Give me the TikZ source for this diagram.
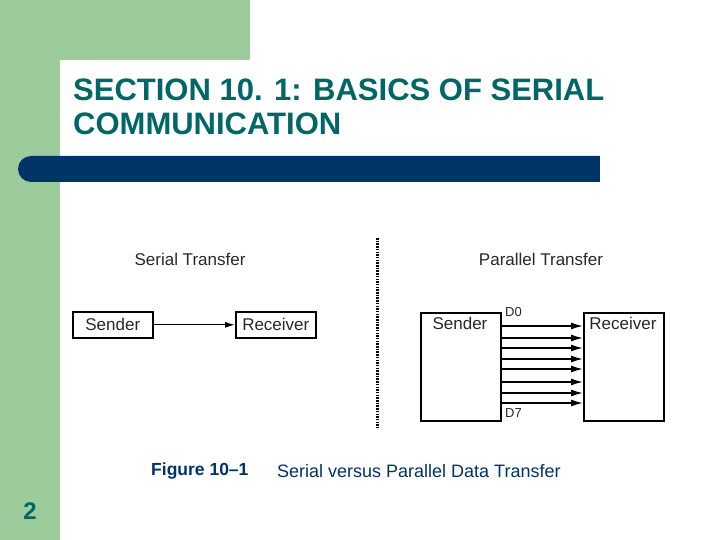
\documentclass[tikz,border=0pt]{standalone}
\usepackage{fontspec}
\setmainfont{Liberation Sans}
\usetikzlibrary{arrows.meta}
\definecolor{gr}{RGB}{156,204,156}
\definecolor{bl}{RGB}{0,51,102}
\definecolor{tl}{RGB}{0,102,102}
\definecolor{tx}{RGB}{40,40,40}
\begin{document}
\begin{tikzpicture}[x=1pt,y=-1pt,
  box/.style={draw,line width=1.6pt,anchor=north west,inner sep=0pt},
  lbl/.style={text=tx,font=\fontsize{17}{19}\selectfont,inner sep=0pt},
  arr/.style={line width=1.5pt,-{Latex[length=12pt,width=7pt]}}]
\useasboundingbox (0,0) rectangle (720,540);
\fill[gr] (0,0) rectangle (250,60);
\fill[gr] (0,0) rectangle (60,540);
\fill[white,rounded corners=16pt] (60,60) rectangle (740,560);
\fill[bl,rounded corners=13pt] (18,156) rectangle (640,182);
\fill[white] (600,150) rectangle (720,190);
\node[anchor=west,text=tl,font=\bfseries\fontsize{31}{34}\selectfont,align=left,inner sep=0pt] (title) at (73,107) {SECTION 10. 1: BASICS OF SERIAL\\COMMUNICATION};
\node[lbl] (st) at (190,259) {Serial Transfer};
\node[lbl] (pt) at (541,259) {Parallel Transfer};
\node[box,minimum width=80pt,minimum height=26pt] (s1) at (72,311) {};
\node[lbl,anchor=center] at (s1.center) {Sender};
\node[box,minimum width=80pt,minimum height=26pt] (r1) at (235,311) {};
\node[lbl,anchor=center] at (r1.center) {Receiver};
\draw[line width=1.2pt,-{Latex[length=10pt,width=6pt]}] (s1.east) -- (r1.west);
\coordinate (dt) at (377,238); \coordinate (db) at (377,428);
\draw[line width=3pt,dash pattern=on 1.5pt off 1.2pt] (dt) -- (db);
\node[box,minimum width=80pt,minimum height=108pt] (s2) at (420,312) {};
\node[lbl] at (460,323) {Sender};
\node[box,minimum width=80pt,minimum height=108pt] (r2) at (583,312) {};
\node[lbl] at (623,323) {Receiver};
\foreach \y in {326,338,348,359,369,382,393,403}{
  \coordinate (a) at (s2.west |- 0,\y); \coordinate (b) at (r2.west |- 0,\y);
  \draw[arr] (s2.east |- a) -- (b);}
\node[lbl,anchor=west,font=\fontsize{13}{15}\selectfont] at (505,312) {D0};
\node[lbl,anchor=west,font=\fontsize{13}{15}\selectfont] at (505,413) {D7};
\node[lbl,anchor=west,font=\bfseries\fontsize{17.5}{19}\selectfont,text=bl] (fig) at (151,471) {Figure 10–1};
\node[lbl,anchor=west,font=\fontsize{18}{20}\selectfont,text=bl] (cap) at (277,471) {Serial versus Parallel Data Transfer};
\node[text=tl,font=\bfseries\fontsize{24}{26}\selectfont,inner sep=0pt] (num) at (30,511) {2};
\end{tikzpicture}
\end{document}
